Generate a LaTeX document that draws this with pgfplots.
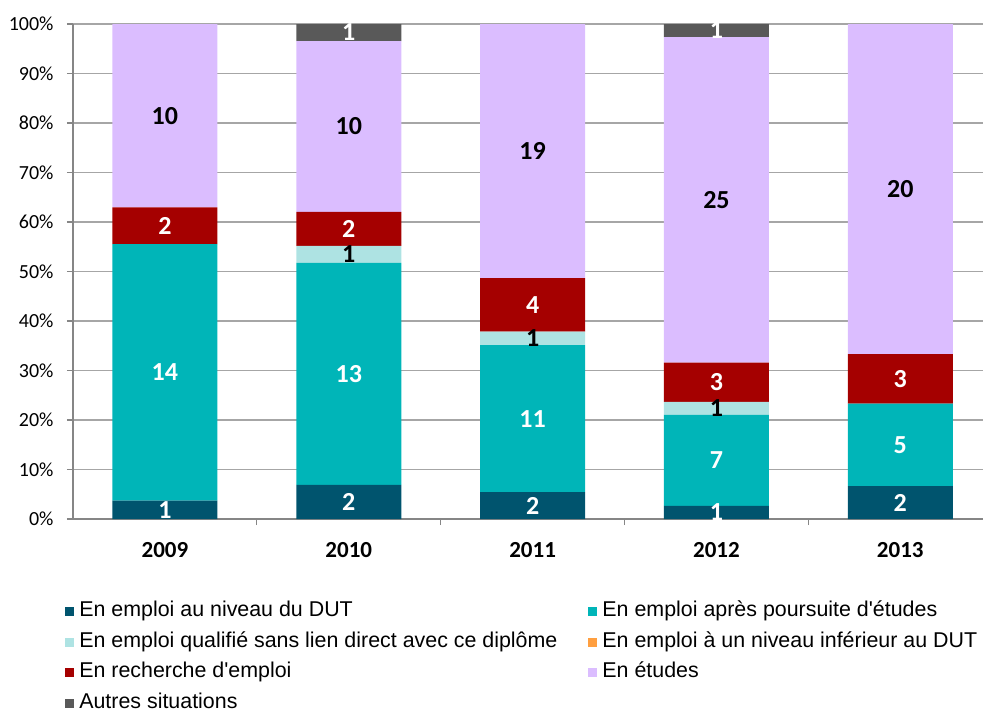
\documentclass[border=0pt]{standalone}
\usepackage{pgfplots}
\pgfplotsset{compat=1.18}
\usepackage{pgfplotstable}
\usepackage{fontspec}
\setmainfont{Carlito}
\newfontfamily\arialfont{Liberation Sans}
\definecolor{cA}{HTML}{00546E}
\definecolor{cB}{HTML}{00B5B8}
\definecolor{cC}{HTML}{AEE3E3}
\definecolor{cD}{HTML}{FF9F40}
\definecolor{cE}{HTML}{A50000}
\definecolor{cF}{HTML}{DBBDFF}
\definecolor{cG}{HTML}{595959}
\definecolor{gridgray}{HTML}{A6A6A6}
\definecolor{axisgray}{HTML}{868686}
\pgfplotstableread{
x e1 e2 e3 e4 rech etud autres tot
0 1 14 0 0 2 10 0 27
1 2 13 1 0 2 10 1 29
2 2 11 1 0 4 19 0 37
3 1 7 1 0 3 25 1 38
4 2 5 0 0 3 20 0 30
}\data
\newcommand\lab[3]{%
\addplot[draw=none, mark=none, nodes near coords, point meta=explicit,
  nodes near coords style={text=#1, anchor=center, font=\bfseries\fontsize{26}{26}\selectfont},
  restrict expr to domain={\thisrow{#2}}{0.5:1000}]
  table[x=x, y expr={(#3+\thisrow{#2}/2)/\thisrow{tot}*100}, meta=#2] {\data};}
\begin{document}
\begin{tikzpicture}
\begin{axis}[
  at={(73pt,194pt)}, anchor=south west,
  width=910pt, height=495pt, scale only axis,
  ybar stacked, bar width=105pt,
  xmin=-0.5, xmax=4.45, ymin=0, ymax=100,
  axis x line*=bottom, axis y line*=left,
  axis line style={-, draw=axisgray, line width=1.4pt},
  ytick={0,10,...,100},
  yticklabel={\pgfmathprintnumber{\tick}\%},
  /pgf/number format/assume math mode=true,
  y tick label style={font=\fontsize{20}{20}\selectfont, xshift=-10pt},
  xtick={0,1,2,3,4},
  xticklabels={2009,2010,2011,2012,2013},
  x tick label style={font=\bfseries\fontsize{23}{23}\selectfont, yshift=-14pt},
  major x tick style={draw=none},
  minor xtick={0.5,1.5,2.5,3.5},
  tick align=outside,
  major tick length=6pt, minor tick length=6pt,
  tick style={draw=axisgray, line width=1.2pt},
  ymajorgrids, major grid style={draw=gridgray, line width=1.2pt},
  legend columns=2,
  legend cell align=left,
  legend image code/.code={\fill[#1] (0pt,-4.5pt) rectangle (9pt,4.5pt);},
  legend style={at={(axis description cs:-0.012,-0.154)}, anchor=north west,
    draw=none, fill=none, inner sep=3pt,
    font=\arialfont\fontsize{21.4}{24}\selectfont,
    nodes={text height=15pt, text depth=5pt, inner ysep=3pt, inner xsep=5pt},
    row sep=4.6pt,
    /tikz/every even column/.append style={column sep=26pt}},
]
\addplot[fill=cA, draw=none] table[x=x, y expr={\thisrow{e1}/\thisrow{tot}*100}] {\data};
\addplot[fill=cB, draw=none] table[x=x, y expr={\thisrow{e2}/\thisrow{tot}*100}] {\data};
\addplot[fill=cC, draw=none] table[x=x, y expr={\thisrow{e3}/\thisrow{tot}*100}] {\data};
\addplot[fill=cD, draw=none] table[x=x, y expr={\thisrow{e4}/\thisrow{tot}*100}] {\data};
\addplot[fill=cE, draw=none] table[x=x, y expr={\thisrow{rech}/\thisrow{tot}*100}] {\data};
\addplot[fill=cF, draw=none] table[x=x, y expr={\thisrow{etud}/\thisrow{tot}*100}] {\data};
\addplot[fill=cG, draw=none] table[x=x, y expr={\thisrow{autres}/\thisrow{tot}*100}] {\data};
\legend{En emploi au niveau du DUT, En emploi après poursuite d'études,
  En emploi qualifié sans lien direct avec ce diplôme, En emploi à un niveau inférieur au DUT,
  En recherche d'emploi, En études, Autres situations}
\end{axis}
\begin{axis}[
  at={(73pt,194pt)}, anchor=south west,
  width=910pt, height=495pt, scale only axis,
  xmin=-0.5, xmax=4.45, ymin=0, ymax=100,
  hide axis, clip=false,
  /pgf/number format/assume math mode=true,
]
\lab{white}{e1}{0}
\lab{white}{e2}{\thisrow{e1}}
\lab{black}{e3}{\thisrow{e1}+\thisrow{e2}}
\lab{white}{rech}{\thisrow{e1}+\thisrow{e2}+\thisrow{e3}+\thisrow{e4}}
\lab{black}{etud}{\thisrow{e1}+\thisrow{e2}+\thisrow{e3}+\thisrow{e4}+\thisrow{rech}}
\lab{white}{autres}{\thisrow{e1}+\thisrow{e2}+\thisrow{e3}+\thisrow{e4}+\thisrow{rech}+\thisrow{etud}}
\end{axis}
\pgfresetboundingbox
\path (0,0) rectangle (983pt,713pt);
\end{tikzpicture}
\end{document}
